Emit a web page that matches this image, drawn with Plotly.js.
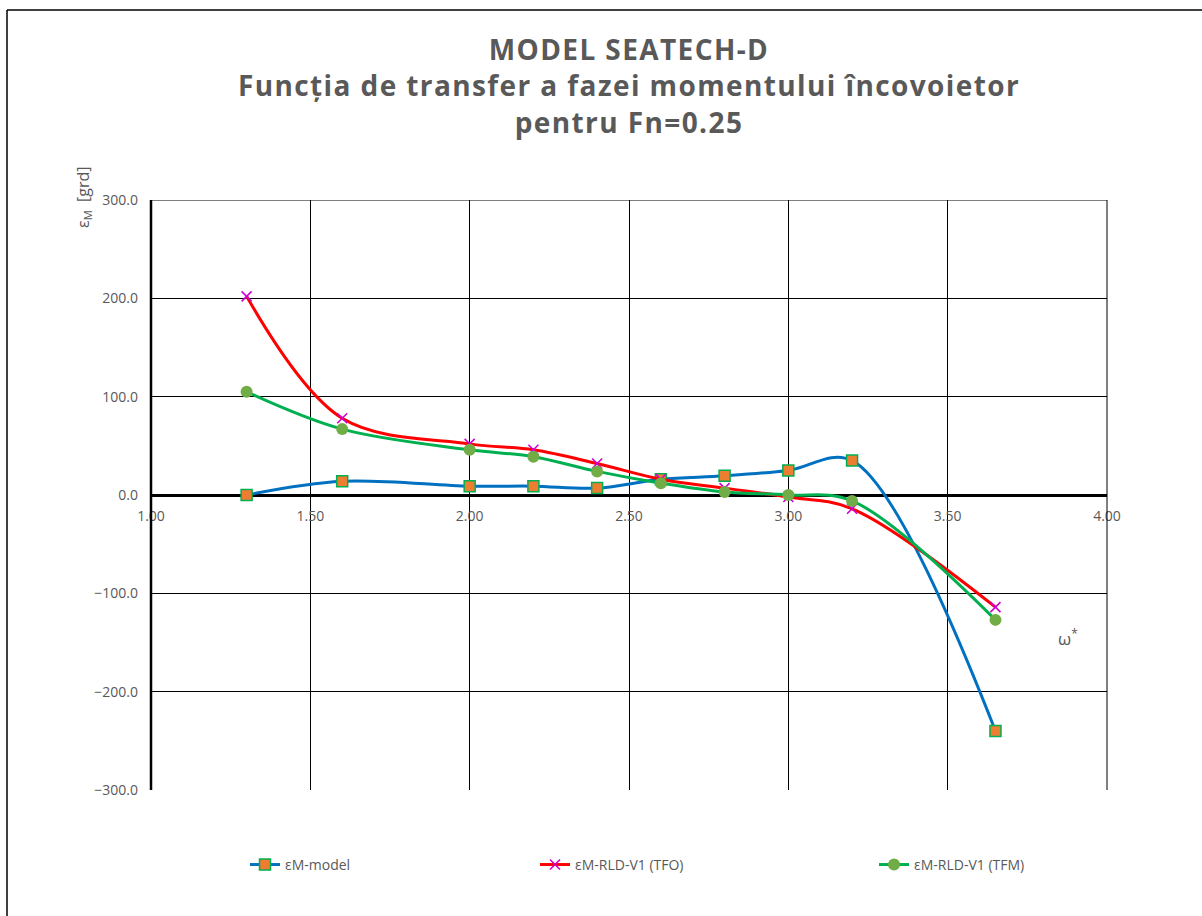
<!DOCTYPE html>
<html>
<head>
<meta charset="utf-8">
<script src="https://cdn.plot.ly/plotly-3.0.1.min.js"></script>
<style>
html,body{margin:0;padding:0;background:#fff;}
#chart{width:1202px;height:916px;}
#chart .gtitle{letter-spacing:1.4px;}
</style>
</head>
<body>
<div id="chart"></div>
<script>
// Data
const omega = [1.3, 1.6, 2.0, 2.2, 2.4, 2.6, 2.8, 3.0, 3.2, 3.65];
const epsModel = [0, 14, 9, 9, 7, 16, 19.5, 25, 35, -240];
const epsTFO = [202, 78, 52, 46, 32, 16, 7, -2, -14, -114];
const epsTFM = [105, 67, 46, 39, 24, 12, 3, 0, -6, -127];
const seriesNames = ["εM-model", "εM-RLD-V1 (TFO)", "εM-RLD-V1 (TFM)"];
const yTicks = [-300, -200, -100, 0, 100, 200, 300];
const xTicks = [1.0, 1.5, 2.0, 2.5, 3.0, 3.5, 4.0];
const xRange = [1, 4];
const yRange = [-300, 300];

const gray = "#595959";
const fontFam = "'Open Sans', 'DejaVu Sans', sans-serif";

const traces = [
  {
    x: omega, y: epsModel, name: seriesNames[0], type: "scatter", mode: "lines+markers",
    line: {color: "#0070C0", width: 3, shape: "spline", smoothing: 1},
    marker: {symbol: "square", size: 11, color: "#ED7D31", line: {color: "#00B050", width: 1.5}},
    legend: "legend"
  },
  {
    x: omega, y: epsTFO, name: seriesNames[1], type: "scatter", mode: "lines+markers",
    line: {color: "#FF0000", width: 3, shape: "spline", smoothing: 1},
    marker: {symbol: "x-thin", size: 10, color: "#D000D0", line: {color: "#D000D0", width: 1.6}},
    legend: "legend2"
  },
  {
    x: omega, y: epsTFM, name: seriesNames[2], type: "scatter", mode: "lines+markers",
    line: {color: "#00B050", width: 3, shape: "spline", smoothing: 1},
    marker: {symbol: "circle", size: 12, color: "#70AD47"},
    legend: "legend3"
  }
];

const legendBase = {
  orientation: "h", yanchor: "middle", y: -0.127, xanchor: "left",
  font: {family: fontFam, size: 14, color: gray}, bgcolor: "rgba(0,0,0,0)"
};

const layout = {
  width: 1202, height: 916,
  margin: {l: 151, r: 95, t: 200, b: 126},
  paper_bgcolor: "#ffffff", plot_bgcolor: "#ffffff",
  showlegend: true,
  font: {family: fontFam, color: gray},
  title: {
    text: "<b>MODEL SEATECH-D<br>Funcția de transfer a fazei momentului încovoietor<br>pentru Fn=0.25</b>",
    font: {family: fontFam, size: 28, color: gray},
    x: 0.5, xref: "paper", xanchor: "center",
    y: 1 - 60 / 916, yref: "container", yanchor: "middle"
  },
  xaxis: {
    range: xRange, tickvals: xTicks, tickformat: ".2f",
    showgrid: true, gridcolor: "#000000", gridwidth: 1,
    zeroline: false, showline: false, ticks: "",
    anchor: "free", position: 0.5, ticklabelstandoff: 11,
    tickfont: {family: fontFam, size: 14, color: gray}
  },
  yaxis: {
    range: yRange, tickvals: yTicks, tickformat: ".1f",
    showgrid: true, gridcolor: "#000000", gridwidth: 1,
    zeroline: true, zerolinecolor: "#000000", zerolinewidth: 3,
    showline: false, ticks: "", ticklabelstandoff: 12,
    tickfont: {family: fontFam, size: 14, color: gray}
  },
  legend: Object.assign({}, legendBase, {x: (245 - 151) / 956}),
  legend2: Object.assign({}, legendBase, {x: (535 - 151) / 956}),
  legend3: Object.assign({}, legendBase, {x: (874 - 151) / 956}),
  annotations: [
    {
      text: "ε<sub>M</sub>  [grd]", xref: "paper", yref: "paper",
      x: (84 - 151) / 956, y: (790 - 197) / 590, xanchor: "center", yanchor: "middle",
      textangle: -90, showarrow: false,
      font: {family: fontFam, size: 16, color: gray}
    },
    {
      text: "ω<sup>*</sup>", xref: "paper", yref: "paper",
      x: (1068 - 151) / 956, y: (790 - 637) / 590, xanchor: "center", yanchor: "middle",
      showarrow: false,
      font: {family: fontFam, size: 17, color: gray}
    }
  ],
  shapes: [
    // gridline at top of range and right edge (not drawn by Plotly at range ends)
    {type: "line", xref: "paper", yref: "y", x0: 0, x1: 1, y0: yRange[1], y1: yRange[1],
     line: {color: "#000000", width: 1}},
    {type: "line", xref: "paper", yref: "y", x0: 1, x1: 1, y0: yRange[0], y1: yRange[1],
     line: {color: "#000000", width: 1}},
    // vertical value axis line
    {type: "line", xref: "paper", yref: "y", x0: 0, x1: 0, y0: yRange[0], y1: yRange[1],
     line: {color: "#000000", width: 2.5}},
    // chart area border
    {type: "line", xref: "paper", yref: "paper",
     x0: (7 - 151) / 956, x1: (1210 - 151) / 956, y0: (790 - 10) / 590, y1: (790 - 10) / 590,
     line: {color: "#000000", width: 1.5}},
    {type: "line", xref: "paper", yref: "paper",
     x0: (7 - 151) / 956, x1: (7 - 151) / 956, y0: (790 - 10) / 590, y1: (790 - 930) / 590,
     line: {color: "#000000", width: 1.5}}
  ]
};

Plotly.newPlot("chart", traces, layout, {displayModeBar: false, staticPlot: true});
</script>
</body>
</html>
